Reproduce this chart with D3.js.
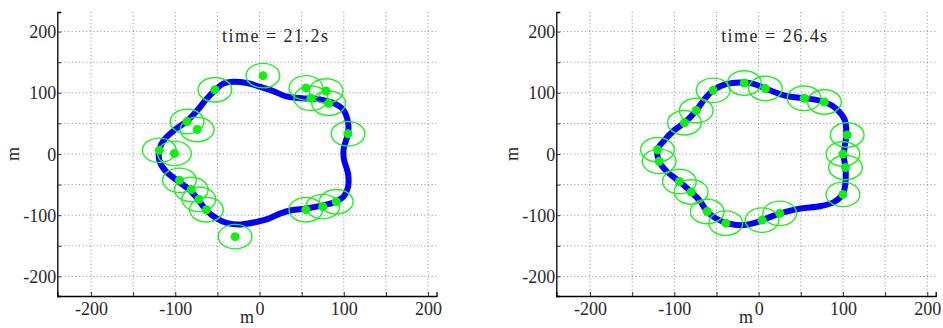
<!DOCTYPE html>
<html>
<head>
<meta charset="utf-8">
<script src="https://cdn.jsdelivr.net/npm/d3@7"></script>
<style>
html,body{margin:0;padding:0;background:#fff;}
svg{display:block;}
</style>
</head>
<body>
<svg id="chart" width="943" height="328"></svg>
<script>
// ---- data ----
const xDomain = [-240, 210];
const yDomain = [-232, 232];
const gridTicks = [-200, -150, -100, -50, 0, 50, 100, 150, 200];
const labelTicks = [-200, -100, 0, 100, 200];
const axisLabel = "m";
const timeLabels = ["time = 21.2s", "time = 26.4s"];
const sensingRadius = 20;

// formation boundary curves (closed)
const curve1 = [
  [-52,105],[-43,115],[-31,118],[-15,116],[0,110],[14,104],[32,94],[50,91],
  [68,90],[86,84],[99,73],[105,52],[105,33],[100,10],[100,-8],[105,-32],
  [105,-54],[100,-69],[90,-78],[75,-84],[56,-89],[38,-92],[25,-97],[10,-106],
  [-4,-111],[-22,-115],[-38,-113],[-50,-106],[-63,-92],[-72,-76],[-82,-60],
  [-98,-43],[-112,-27],[-119,-10],[-119,6],[-114,22],[-102,38],[-86,54],
  [-74,71],[-63,90]
];
const curve2 = [
  [-54,104],[-39,114],[-22,117],[-7,115],[8,107],[25,98],[40,93],[56,91],
  [78,85],[92,74],[102,56],[104,31],[102,11],[101,-5],[103,-22],[103,-46],
  [100,-65],[90,-78],[74,-85],[50,-89],[33,-94],[17,-101],[1,-110],[-17,-116],
  [-35,-114],[-51,-105],[-61,-94],[-70,-76],[-80,-62],[-94,-45],[-110,-27],
  [-118,-12],[-120,7],[-112,22],[-100,39],[-88,51],[-74,71],[-64,90]
];

// agent positions
const agents1X = [4,-53,55,79,61,82,105,-86,-74,-119,-101,-95,-81,-72,-63,-29,55,75,91];
const agents1Y = [128,105,108,103,91,83,33,53,40,6,1,-43,-58,-74,-91,-135,-91,-86,-78];
const agents2X = [-54,-17,8,54,78,-74,-88,105,100,103,100,-120,-118,-94,-80,-61,-39,4,25];
const agents2Y = [104,116,107,91,85,71,51,31,0,-22,-66,7,-12,-45,-62,-94,-113,-108,-97];

const panels = [
  {left: 57.3, right: 436.5, curve: curve1, ax: agents1X, ay: agents1Y, time: timeLabels[0]},
  {left: 556.3, right: 935.7, curve: curve2, ax: agents2X, ay: agents2Y, time: timeLabels[1]}
];

const plotTop = 12, plotBottom = 296;
const FONT = "'Liberation Serif', 'DejaVu Serif', serif";
const svg = d3.select("#chart");
const fmt = d => String(d).replace("\u2212", "-");

panels.forEach(p => {
  const x = d3.scaleLinear().domain(xDomain).range([p.left, p.right]);
  const y = d3.scaleLinear().domain(yDomain).range([plotBottom, plotTop]);
  const g = svg.append("g");

  // grid
  g.append("g").selectAll("line").data(gridTicks).join("line")
    .attr("x1", d => x(d)).attr("x2", d => x(d))
    .attr("y1", plotTop).attr("y2", plotBottom)
    .attr("stroke", "#8a8a8a").attr("stroke-width", 1).attr("stroke-dasharray", "1,2.6");
  g.append("g").selectAll("line").data(gridTicks).join("line")
    .attr("y1", d => y(d)).attr("y2", d => y(d))
    .attr("x1", p.left).attr("x2", p.right)
    .attr("stroke", "#8a8a8a").attr("stroke-width", 1).attr("stroke-dasharray", "1,2.6");

  // axes
  const xAxis = d3.axisBottom(x).tickValues(gridTicks).tickSize(-4).tickPadding(8)
    .tickFormat(d => labelTicks.includes(d) ? fmt(d) : "");
  const yAxis = d3.axisLeft(y).tickValues(gridTicks).tickSize(-4).tickPadding(2)
    .tickFormat(d => labelTicks.includes(d) ? fmt(d) : "");
  const gx = g.append("g").attr("transform", `translate(0,${plotBottom})`).call(xAxis);
  const gy = g.append("g").attr("transform", `translate(${p.left},0)`).call(yAxis);
  [gx, gy].forEach(a => {
    a.attr("font-family", null).attr("font-size", null);
    a.select(".domain").attr("stroke", "#000").attr("stroke-width", 1.3);
    a.selectAll(".tick line").attr("stroke", "#333");
    a.selectAll(".tick text")
      .style("font-family", FONT).style("font-size", "18px").style("fill", "#2a2a2a");
  });
  gx.selectAll(".tick text").attr("dy", "0.71em").attr("y", 6);
  gy.selectAll(".tick text").attr("x", -1).attr("dy", "0.34em");

  // axis labels
  g.append("text").attr("x", (p.left + p.right) / 2).attr("y", 323)
    .attr("text-anchor", "middle")
    .style("font-family", FONT).style("font-size", "18px").style("fill", "#2a2a2a")
    .text(axisLabel);
  g.append("text")
    .attr("transform", `translate(${p.left - 38},${(plotTop + plotBottom) / 2}) rotate(-90)`)
    .attr("text-anchor", "middle")
    .style("font-family", FONT).style("font-size", "18px").style("fill", "#2a2a2a")
    .text(axisLabel);

  // time label
  g.append("text").attr("x", x(-44.5)).attr("y", y(183))
    .style("font-family", FONT).style("font-size", "18px").style("fill", "#2a2a2a")
    .attr("textLength", 106).attr("lengthAdjust", "spacing")
    .text(p.time);

  // boundary curve
  const line = d3.line().x(d => x(d[0])).y(d => y(d[1])).curve(d3.curveCatmullRomClosed.alpha(0.5));
  g.append("path").attr("d", line(p.curve))
    .attr("fill", "none").attr("stroke", "#0000ff").attr("stroke-width", 6)
    .attr("stroke-linejoin", "round");

  // agents
  const agents = p.ax.map((v, i) => [v, p.ay[i]]);
  const rx = x(sensingRadius) - x(0), ry = y(0) - y(sensingRadius);
  g.append("g").selectAll("ellipse").data(agents).join("ellipse")
    .attr("cx", d => x(d[0])).attr("cy", d => y(d[1]))
    .attr("rx", rx).attr("ry", ry)
    .attr("fill", "none").attr("stroke", "#22ee22").attr("stroke-width", 1.4);
  g.append("g").selectAll("circle").data(agents).join("circle")
    .attr("cx", d => x(d[0])).attr("cy", d => y(d[1]))
    .attr("r", 4.5).attr("fill", "#11ee11");
});
</script>
</body>
</html>
